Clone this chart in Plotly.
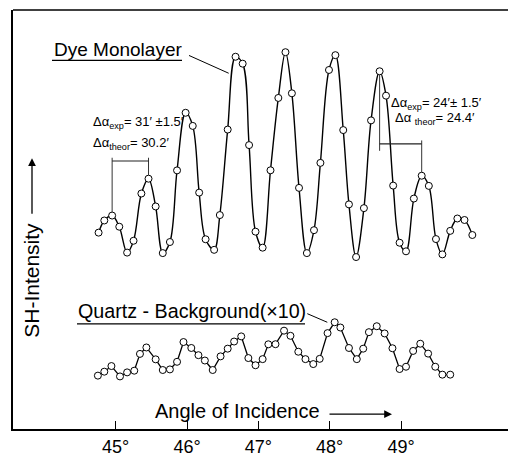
import plotly.graph_objects as go

# ---- data (angle of incidence in degrees, SH intensity in arbitrary units) ----
dye_angle = [44.76, 44.84, 44.95, 45.05, 45.16, 45.25, 45.36, 45.46, 45.56, 45.66,
             45.76, 45.86, 45.98, 46.08, 46.17, 46.26, 46.38, 46.46, 46.57, 46.68,
             46.78, 46.87, 46.96, 47.06, 47.17, 47.28, 47.38, 47.47, 47.57, 47.68,
             47.78, 47.87, 47.99, 48.08, 48.19, 48.27, 48.37, 48.48, 48.58, 48.70,
             48.79, 48.89, 48.98, 49.07, 49.18, 49.29, 49.39, 49.49, 49.58, 49.69,
             49.79, 49.89, 50.00]
dye_int = [199.2, 211.5, 216.5, 205.2, 179.0, 191.0, 238.8, 253.8, 225.7, 178.5,
           189.7, 262.2, 320.5, 307.2, 239.7, 192.5, 181.8, 217.0, 303.5, 377.2,
           370.2, 287.8, 200.2, 184.0, 262.3, 335.5, 381.8, 340.2, 244.5, 178.5,
           201.7, 269.8, 363.8, 378.8, 303.0, 227.8, 174.5, 224.0, 312.8, 362.5,
           337.8, 246.8, 189.0, 180.3, 233.7, 256.8, 246.5, 192.7, 177.2, 201.0,
           213.5, 212.0, 196.8]

quartz_angle = [44.75, 44.84, 44.94, 45.06, 45.16, 45.26, 45.34, 45.43, 45.56, 45.66,
                45.76, 45.86, 45.95, 46.06, 46.16, 46.25, 46.36, 46.47, 46.57, 46.66,
                46.76, 46.86, 46.96, 47.06, 47.14, 47.24, 47.36, 47.45, 47.56, 47.66,
                47.77, 47.86, 47.97, 48.07, 48.15, 48.27, 48.38, 48.47, 48.55, 48.66,
                48.77, 48.88, 48.98, 49.07, 49.17, 49.27, 49.38, 49.48, 49.58, 49.69]
quartz_int = [54.5, 58.5, 64.2, 53.7, 57.8, 59.5, 76.5, 83.0, 71.0, 60.2,
              60.8, 68.5, 88.5, 82.5, 75.2, 69.8, 60.2, 74.0, 81.8, 89.0,
              94.2, 72.3, 65.0, 71.2, 86.2, 86.3, 100.0, 94.8, 78.7, 71.2,
              66.2, 71.5, 97.5, 108.5, 103.2, 82.5, 71.2, 81.8, 98.5, 104.5,
              97.2, 82.2, 61.2, 63.5, 79.5, 86.8, 76.8, 63.5, 55.5, 55.5]

tick_vals = [45, 46, 47, 48, 49]
tick_text = ["45°", "46°", "47°", "48°", "49°"]

FONT = "Liberation Sans, Arial, sans-serif"
W, H = 508, 457
L, R, T, B = 13, 0, 10, 23
PW, PH = W - L - R, H - T - B


def px(x):
    return (x - L) / PW


def py(y):
    return (H - B - y) / PH


marker = dict(symbol="circle", size=7, color="white", line=dict(color="black", width=1))

fig = go.Figure()
fig.add_trace(go.Scatter(x=dye_angle, y=dye_int, mode="lines+markers",
                         line=dict(color="black", width=1.4, shape="spline", smoothing=1.0),
                         marker=marker, showlegend=False))
fig.add_trace(go.Scatter(x=quartz_angle, y=quartz_int, mode="lines+markers",
                         line=dict(color="black", width=1.3),
                         marker=marker, showlegend=False))

shapes = []
thin = dict(color="#333", width=1)
# top frame line
shapes.append(dict(type="line", xref="paper", yref="paper", x0=0, x1=1, y0=1, y1=1,
                   line=dict(color="black", width=1.5)))
# underlines and leader lines
shapes.append(dict(type="line", xref="paper", yref="paper", x0=px(52), x1=px(182), y0=py(61), y1=py(61), line=dict(color="black", width=1.3)))
shapes.append(dict(type="line", xref="paper", yref="paper", x0=px(189), x1=px(228.7), y0=py(56), y1=py(74), line=dict(color="black", width=1)))
shapes.append(dict(type="line", xref="paper", yref="paper", x0=px(77), x1=px(305), y0=py(327.7), y1=py(327.7), line=dict(color="black", width=1.3)))
shapes.append(dict(type="line", xref="paper", yref="paper", x0=px(307.3), x1=px(327.3), y0=py(317.3), y1=py(326), line=dict(color="black", width=1)))

# left bracket (between dye points 3 and 8)
a, b = 2, 7
shapes.append(dict(type="line", x0=dye_angle[a], x1=dye_angle[a], y0=dye_int[a] + 3.5, y1=275, line=thin))
shapes.append(dict(type="line", x0=dye_angle[b], x1=dye_angle[b], y0=dye_int[b] + 3.5, y1=275, line=thin))
shapes.append(dict(type="line", x0=dye_angle[a], x1=dye_angle[b], y0=271.7, y1=271.7, line=dict(color="#222", width=1.2)))
# right bracket (between dye points 40 and 46)
a, b = 39, 45
shapes.append(dict(type="line", x0=dye_angle[a], x1=dye_angle[a], y0=dye_int[a] - 3.5, y1=282, line=thin))
shapes.append(dict(type="line", x0=dye_angle[b], x1=dye_angle[b], y0=dye_int[b] + 3.5, y1=292.5, line=thin))
shapes.append(dict(type="line", x0=dye_angle[a], x1=dye_angle[b], y0=289, y1=289, line=dict(color="#222", width=1.2)))

ann = []
def text(x, y, s, size, xanchor="left", angle=0):
    ann.append(dict(xref="paper", yref="paper", x=px(x), y=py(y), text=s, showarrow=False,
                    xanchor=xanchor, yanchor="middle", textangle=angle,
                    font=dict(family=FONT, size=size, color="black")))

text(52, 50, "Dye Monolayer", 19)
text(76, 315, "Quartz - Background(×10)", 19.7)
text(91, 124, "Δα<sub>exp</sub>= 31′ ±1.5′", 13)
text(91, 145, "Δα<sub>theor</sub>= 30.2′", 13)
text(389, 105, "Δα<sub>exp</sub>= 24′± 1.5′", 13)
text(393, 120, "Δα <sub>theor</sub>= 24.4′", 13)
text(237, 416, "Angle of Incidence", 20, xanchor="center")
text(32, 284, "SH-Intensity", 21, xanchor="center", angle=-90)

# arrows
ann.append(dict(xref="paper", yref="paper", x=px(32), y=py(160), ax=0, ay=57, text="",
                showarrow=True, arrowhead=2, arrowsize=1.2, arrowwidth=1.3, arrowcolor="black", standoff=0))
ann.append(dict(xref="paper", yref="paper", x=px(392), y=py(419), ax=-64, ay=0, text="",
                showarrow=True, arrowhead=2, arrowsize=1.2, arrowwidth=1.3, arrowcolor="black", standoff=0))

fig.update_layout(
    width=W, height=H, margin=dict(l=L, r=R, t=T, b=B),
    paper_bgcolor="white", plot_bgcolor="white",
    shapes=shapes, annotations=ann,
    font=dict(family=FONT, color="black"),
    xaxis=dict(range=[43.56, 50.50], tickvals=tick_vals, ticktext=tick_text,
               ticks="inside", ticklen=8, tickwidth=1.3, tickcolor="black",
               showline=True, linecolor="black", linewidth=2, mirror=False,
               showgrid=False, zeroline=False, tickfont=dict(size=18, family=FONT)),
    yaxis=dict(range=[0.5, 424.5], showticklabels=False, ticks="",
               showline=True, linecolor="black", linewidth=1.5,
               showgrid=False, zeroline=False),
)

fig.write_html("out.html", config={"displayModeBar": False},
               post_script="document.body.style.margin='0';")
